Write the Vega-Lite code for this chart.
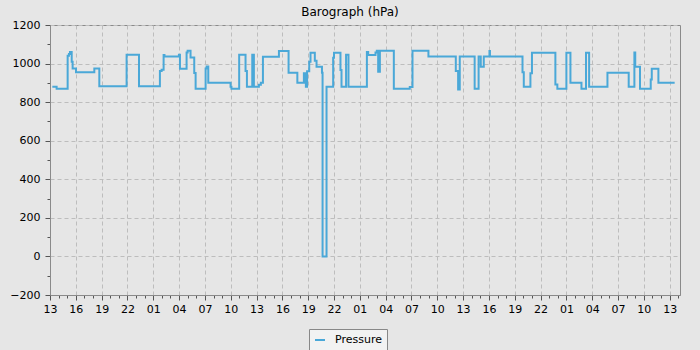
{
  "$schema": "https://vega.github.io/schema/vega-lite/v6.json",
  "width": 630,
  "height": 270,
  "autosize": {"type": "none"},
  "padding": {"left": 50, "top": 25, "right": 20, "bottom": 55},
  "background": "#e6e6e6",
  "title": {"text": "Barograph (hPa)", "frame": "group", "anchor": "middle", "dx": -15, "offset": 0, "font": "DejaVu Sans", "fontSize": 12, "fontWeight": "normal", "color": "#000000"},
  "data": {"values": [
    {"t": 0.27, "p": 880}, {"t": 0.77, "p": 870}, {"t": 2.05, "p": 1040}, {"t": 2.2, "p": 1050}, {"t": 2.32, "p": 1060},
    {"t": 2.52, "p": 1010}, {"t": 2.63, "p": 975}, {"t": 3.02, "p": 955}, {"t": 5.15, "p": 975}, {"t": 5.73, "p": 882},
    {"t": 8.9, "p": 1046}, {"t": 10.34, "p": 882}, {"t": 12.77, "p": 961}, {"t": 12.97, "p": 968}, {"t": 13.2, "p": 1045},
    {"t": 13.3, "p": 1037}, {"t": 14.98, "p": 1046}, {"t": 15.1, "p": 973}, {"t": 15.87, "p": 1058}, {"t": 15.99, "p": 1067},
    {"t": 16.33, "p": 1032}, {"t": 16.76, "p": 951}, {"t": 16.92, "p": 870}, {"t": 18.08, "p": 975}, {"t": 18.2, "p": 985},
    {"t": 18.39, "p": 901}, {"t": 20.98, "p": 880}, {"t": 21.08, "p": 870}, {"t": 21.98, "p": 1046}, {"t": 22.72, "p": 961},
    {"t": 22.88, "p": 880}, {"t": 23.5, "p": 1046}, {"t": 23.69, "p": 880}, {"t": 24.27, "p": 890}, {"t": 24.5, "p": 901},
    {"t": 24.74, "p": 1036}, {"t": 26.6, "p": 1065}, {"t": 27.72, "p": 953}, {"t": 28.74, "p": 901}, {"t": 29.5, "p": 950},
    {"t": 29.73, "p": 880}, {"t": 29.87, "p": 960}, {"t": 30.12, "p": 1010}, {"t": 30.27, "p": 1056}, {"t": 30.77, "p": 1015},
    {"t": 30.97, "p": 984}, {"t": 31.6, "p": 953}, {"t": 31.67, "p": 0}, {"t": 32.13, "p": 880}, {"t": 32.9, "p": 1030},
    {"t": 33.0, "p": 1056}, {"t": 33.75, "p": 967}, {"t": 33.87, "p": 880}, {"t": 34.4, "p": 1046}, {"t": 34.68, "p": 880},
    {"t": 36.82, "p": 1060}, {"t": 36.97, "p": 1044}, {"t": 37.82, "p": 1058}, {"t": 37.97, "p": 1067}, {"t": 38.13, "p": 958},
    {"t": 38.33, "p": 1067}, {"t": 39.95, "p": 870}, {"t": 41.8, "p": 879}, {"t": 42.12, "p": 1067}, {"t": 43.97, "p": 1037},
    {"t": 47.15, "p": 961}, {"t": 47.42, "p": 866}, {"t": 47.61, "p": 1037}, {"t": 49.34, "p": 870}, {"t": 49.8, "p": 1037},
    {"t": 50.05, "p": 984}, {"t": 50.4, "p": 1037}, {"t": 51.06, "p": 1065}, {"t": 51.12, "p": 1037}, {"t": 54.9, "p": 955},
    {"t": 55.05, "p": 880}, {"t": 55.82, "p": 950}, {"t": 56.0, "p": 1056}, {"t": 58.72, "p": 892}, {"t": 58.95, "p": 870},
    {"t": 60.0, "p": 1056}, {"t": 60.47, "p": 901}, {"t": 61.75, "p": 870}, {"t": 62.28, "p": 1056}, {"t": 62.64, "p": 880},
    {"t": 64.77, "p": 953}, {"t": 67.24, "p": 880}, {"t": 67.9, "p": 1058}, {"t": 68.0, "p": 984}, {"t": 68.55, "p": 870},
    {"t": 69.8, "p": 918}, {"t": 69.92, "p": 973}, {"t": 70.69, "p": 901}, {"t": 72.58, "p": 901}
  ]},
  "layer": [
    {
      "mark": {"type": "line", "interpolate": "step-after", "strokeOpacity": 0},
      "encoding": {
        "x": {"field": "t", "type": "quantitative", "scale": {"domain": [0, 73.2], "nice": false, "zero": false},
          "axis": {"orient": "bottom", "values": [0,1,2,3,4,5,6,7,8,9,10,11,12,13,14,15,16,17,18,19,20,21,22,23,24,25,26,27,28,29,30,31,32,33,34,35,36,37,38,39,40,41,42,43,44,45,46,47,48,49,50,51,52,53,54,55,56,57,58,59,60,61,62,63,64,65,66,67,68,69,70,71,72,73], "labels": false, "grid": false, "tickSize": 3, "domain": false, "title": null}},
        "y": {"field": "p", "type": "quantitative", "scale": {"domain": [-200, 1200], "nice": false, "zero": false},
          "axis": {"orient": "left", "values": [-100, 100, 300, 500, 700, 900, 1100], "labels": false, "grid": false, "tickSize": 3, "domain": false, "title": null}}
      }
    },
    {
      "mark": {"type": "line", "interpolate": "step-after", "strokeWidth": 2},
      "encoding": {
        "x": {"field": "t", "type": "quantitative", "scale": {"domain": [0, 73.2], "nice": false, "zero": false},
          "axis": {"orient": "bottom", "values": [0,3,6,9,12,15,18,21,24,27,30,33,36,39,42,45,48,51,54,57,60,63,66,69,72],
            "labelExpr": "((13 + datum.value) % 24) < 10 ? '0' + ((13 + datum.value) % 24) : '' + ((13 + datum.value) % 24)",
            "labelFlush": false, "labelOverlap": false, "labelBound": false,
            "grid": true, "tickSize": 5, "labelPadding": 3, "title": null}},
        "y": {"field": "p", "type": "quantitative", "scale": {"domain": [-200, 1200], "nice": false, "zero": false},
          "axis": {"orient": "left", "values": [-200, 0, 200, 400, 600, 800, 1000, 1200], "format": "d", "labelFlush": false, "labelOverlap": false,
            "grid": true, "tickSize": 5, "labelPadding": 5, "title": null}},
        "color": {"datum": "Pressure", "type": "nominal", "scale": {"range": ["#4aa8d8"]},
          "legend": {"title": "\u00a0", "titleOrient": "right", "titlePadding": 0, "titleFontSize": 11, "orient": "none", "legendX": 259, "legendY": 304, "direction": "horizontal",
            "symbolType": "stroke", "symbolStrokeWidth": 2, "symbolSize": 100, "labelFont": "DejaVu Sans", "labelFontSize": 11, "labelColor": "#000000",
            "strokeColor": "#888888", "fillColor": "#f2f2f2", "padding": 5, "labelOffset": 9}}
      }
    }
  ],
  "resolve": {"axis": {"x": "independent", "y": "independent"}},
  "config": {
    "view": {"stroke": "#8a8a8a", "strokeWidth": 1},
    "axis": {"domainColor": "#8a8a8a", "tickColor": "#555555", "labelColor": "#000000", "labelFont": "DejaVu Sans", "labelFontSize": 11,
      "gridColor": "#bdbdbd", "gridDash": [4, 3], "gridWidth": 1}
  }
}
